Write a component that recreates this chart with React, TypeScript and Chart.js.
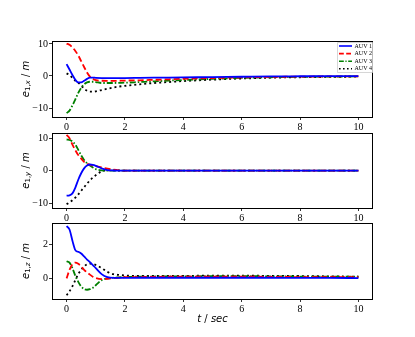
import React, { useEffect, useRef } from "react";
import { Chart, registerables } from "chart.js";
Chart.register(...registerables);

const T = [0, 0.1, 0.2, 0.3, 0.4, 0.5, 0.6, 0.7, 0.8, 0.9, 1.0, 1.2, 1.4, 1.6, 1.8, 2, 2.5, 3, 3.5, 4, 5, 6, 7, 8, 9, 10];

const SERIES_NAMES = ["AUV 1", "AUV 2", "AUV 3", "AUV 4"];

// panel 1: e_{1,x}
const X_AUV1 = [3.7, 2.0, 0.3, -1.2, -2.0, -2.0, -1.5, -0.9, -0.5, -0.5, -0.6, -0.65, -0.65, -0.65, -0.65, -0.65, -0.6, -0.55, -0.5, -0.45, -0.35, -0.25, -0.15, -0.1, -0.06, -0.03];
const X_AUV2 = [10.1, 9.7, 8.9, 7.8, 6.4, 4.6, 2.8, 1.1, -0.2, -0.9, -1.3, -1.5, -1.55, -1.55, -1.5, -1.45, -1.35, -1.2, -1.05, -0.9, -0.65, -0.45, -0.3, -0.2, -0.15, -0.1];
const X_AUV3 = [-11.6, -10.8, -9.2, -7.3, -5.3, -3.7, -2.6, -2.0, -1.8, -1.8, -1.9, -2.2, -2.2, -2.2, -2.15, -2.1, -1.9, -1.7, -1.45, -1.25, -0.9, -0.6, -0.4, -0.3, -0.2, -0.15];
const X_AUV4 = [0.8, 0.3, -0.6, -1.5, -2.1, -3.0, -4.0, -4.6, -4.9, -4.9, -4.8, -4.4, -4.0, -3.6, -3.3, -3.1, -2.6, -2.2, -1.9, -1.6, -1.15, -0.8, -0.55, -0.4, -0.3, -0.2];

// panel 2: e_{1,y}
const Y_AUV1 = [-7.7, -7.6, -7.0, -5.2, -2.8, -0.8, 0.7, 1.6, 1.9, 1.8, 1.5, 0.7, 0.2, 0.05, 0, 0, 0, 0, 0, 0, 0, 0, 0, 0, 0, 0];
const Y_AUV2 = [11.0, 10.0, 8.0, 6.3, 4.8, 3.7, 2.7, 2.1, 1.8, 1.6, 1.4, 1.0, 0.6, 0.3, 0.1, 0, 0, 0, 0, 0, 0, 0, 0, 0, 0, 0];
const Y_AUV3 = [9.6, 9.5, 9.0, 8.0, 6.4, 4.7, 3.3, 2.3, 1.6, 1.0, 0.5, 0.1, 0, 0, 0, 0, 0, 0, 0, 0, 0, 0, 0, 0, 0, 0];
const Y_AUV4 = [-10.3, -9.8, -9.1, -8.3, -7.3, -6.2, -5.1, -4.0, -3.0, -2.1, -1.4, -0.2, 0.1, 0.1, 0.05, 0, 0, 0, 0, 0, 0, 0, 0, 0, 0, 0];

// panel 3: e_{1,z}
const Z_AUV1 = [3.05, 2.85, 2.2, 1.65, 1.55, 1.45, 1.28, 1.1, 0.95, 0.78, 0.6, 0.25, 0.07, 0.03, 0.03, 0.03, 0.04, 0.04, 0.04, 0.04, 0.04, 0.04, 0.04, 0.03, 0.03, 0.02];
const Z_AUV2 = [0, 0.5, 0.82, 0.92, 0.85, 0.7, 0.5, 0.35, 0.22, 0.1, 0.02, -0.04, -0.02, 0.02, 0.05, 0.07, 0.08, 0.09, 0.1, 0.1, 0.1, 0.1, 0.09, 0.08, 0.08, 0.07];
const Z_AUV3 = [1.0, 0.92, 0.6, 0.15, -0.2, -0.47, -0.62, -0.66, -0.63, -0.55, -0.4, -0.1, 0.0, 0.04, 0.06, 0.08, 0.1, 0.11, 0.12, 0.12, 0.13, 0.13, 0.12, 0.11, 0.1, 0.1];
const Z_AUV4 = [-0.98, -0.75, -0.46, -0.1, 0.25, 0.5, 0.7, 0.82, 0.86, 0.84, 0.78, 0.6, 0.38, 0.25, 0.2, 0.17, 0.14, 0.14, 0.15, 0.15, 0.16, 0.16, 0.15, 0.14, 0.12, 0.1];

const X_TICKS = [0, 2, 4, 6, 8, 10];
const Y_TICKS_1 = [-10, 0, 10];
const Y_TICKS_2 = [-10, 0, 10];
const Y_TICKS_3 = [0, 2];

const STYLES = [
  { color: "#0000ff", dash: [] as number[] },
  { color: "#ff0000", dash: [6, 3] },
  { color: "#008000", dash: [6, 2, 1.5, 2] },
  { color: "#000000", dash: [2, 3] },
];

type Panel = {
  top: number;
  height: number;
  padTop: number;
  xAxisH: number;
  yMin: number;
  yMax: number;
  yTicks: number[];
  series: number[][];
  axisSub: string;
  legend: boolean;
  xTitle: boolean;
};

const PANELS: Panel[] = [
  { top: 0, height: 131, padTop: 41, xAxisH: 14, yMin: -12.8, yMax: 10.9, yTicks: Y_TICKS_1, series: [X_AUV1, X_AUV2, X_AUV3, X_AUV4], axisSub: "x", legend: true, xTitle: false },
  { top: 131, height: 90, padTop: 2, xAxisH: 13, yMin: -11.5, yMax: 11.6, yTicks: Y_TICKS_2, series: [Y_AUV1, Y_AUV2, Y_AUV3, Y_AUV4], axisSub: "y", legend: false, xTitle: false },
  { top: 221, height: 116, padTop: 2, xAxisH: 38, yMin: -1.2, yMax: 3.23, yTicks: Y_TICKS_3, series: [Z_AUV1, Z_AUV2, Z_AUV3, Z_AUV4], axisSub: "z", legend: false, xTitle: true },
];

const W = 415;
const LEFT = 52;
const RIGHT_PAD = 42;
const LABEL_FONT = "DejaVu Sans";
const TICK_FONT = "Liberation Serif";

function fmt(v: number) {
  const s = String(v);
  return v < 0 ? "\u2212" + s.slice(1) : s;
}

function drawPieces(ctx: CanvasRenderingContext2D, pieces: { t: string; font: string; dy: number }[], cx: number, cy: number) {
  let total = 0;
  for (const p of pieces) {
    ctx.font = p.font;
    total += ctx.measureText(p.t).width;
  }
  let x = cx - total / 2;
  ctx.textBaseline = "middle";
  ctx.textAlign = "left";
  for (const p of pieces) {
    ctx.font = p.font;
    ctx.fillText(p.t, x, cy + p.dy);
    x += ctx.measureText(p.t).width;
  }
}

function PanelChart({ p }: { p: Panel }) {
  const ref = useRef<HTMLCanvasElement | null>(null);
  useEffect(() => {
    if (!ref.current) return;
    const decor = {
      id: "decor",
      afterDraw(chart: any) {
        const ctx = chart.ctx as CanvasRenderingContext2D;
        const a = chart.chartArea;
        ctx.save();
        ctx.strokeStyle = "#000";
        ctx.lineWidth = 1;
        ctx.strokeRect(Math.round(a.left) + 0.5, Math.round(a.top) + 0.5, Math.round(a.right - a.left) - 1, Math.round(a.bottom - a.top));
        ctx.fillStyle = "#000";
        ctx.translate(26, (a.top + a.bottom) / 2);
        ctx.rotate(-Math.PI / 2);
        drawPieces(
          ctx,
          [
            { t: "e", font: `italic 10px '${LABEL_FONT}'`, dy: 0 },
            { t: "1,", font: `7px '${LABEL_FONT}'`, dy: 2.5 },
            { t: p.axisSub, font: `italic 7px '${LABEL_FONT}'`, dy: 2.5 },
            { t: " / ", font: `10px '${LABEL_FONT}'`, dy: 0 },
            { t: "m", font: `italic 10px '${LABEL_FONT}'`, dy: 0 },
          ],
          0,
          0
        );
        ctx.restore();
        if (p.xTitle) {
          ctx.save();
          ctx.fillStyle = "#000";
          drawPieces(
            ctx,
            [
              { t: "t", font: `italic 10px '${LABEL_FONT}'`, dy: 0 },
              { t: " / ", font: `10px '${LABEL_FONT}'`, dy: 0 },
              { t: "sec", font: `italic 10px '${LABEL_FONT}'`, dy: 0 },
            ],
            (a.left + a.right) / 2,
            a.bottom + 20
          );
          ctx.restore();
        }
        if (p.legend) {
          ctx.save();
          const bx = 337, by = 42, bw = 35, bh = 30;
          ctx.fillStyle = "rgba(255,255,255,0.85)";
          ctx.strokeStyle = "#cccccc";
          ctx.lineWidth = 0.8;
          ctx.beginPath();
          ctx.rect(bx + 0.5, by + 0.5, bw, bh);
          ctx.fill();
          ctx.stroke();
          SERIES_NAMES.forEach((name, i) => {
            const yy = by + 4 + i * 7.6;
            ctx.strokeStyle = STYLES[i].color;
            ctx.lineWidth = 1.6;
            ctx.setLineDash(STYLES[i].dash.length ? STYLES[i].dash.map((d) => d * 0.8) : []);
            ctx.beginPath();
            ctx.moveTo(339, yy);
            ctx.lineTo(352, yy);
            ctx.stroke();
            ctx.setLineDash([]);
            ctx.fillStyle = "#000";
            ctx.font = `6px '${TICK_FONT}'`;
            ctx.textBaseline = "middle";
            ctx.textAlign = "left";
            ctx.fillText(name, 354.5, yy);
          });
          ctx.restore();
        }
      },
    };
    const chart = new Chart(ref.current, {
      type: "line",
      data: {
        datasets: p.series.map((vals, i) => ({
          label: SERIES_NAMES[i],
          data: T.map((t, k) => ({ x: t, y: vals[k] })),
          borderColor: STYLES[i].color,
          borderDash: STYLES[i].dash,
          borderWidth: 1.8,
          pointRadius: 0,
          fill: false,
          cubicInterpolationMode: "monotone" as const,
        })),
      },
      options: {
        animation: false,
        responsive: false,
        events: [],
        layout: { padding: { left: 0, right: RIGHT_PAD, top: p.padTop, bottom: 0 } },
        plugins: { legend: { display: false }, tooltip: { enabled: false } },
        scales: {
          x: {
            type: "linear",
            min: -0.5,
            max: 10.5,
            afterBuildTicks: (s: any) => {
              s.ticks = X_TICKS.map((v) => ({ value: v }));
            },
            afterFit: (s: any) => {
              s.height = p.xAxisH;
              s.paddingLeft = 0;
              s.paddingRight = 0;
              s.paddingTop = 0;
              s.paddingBottom = 0;
            },
            border: { display: false },
            grid: { drawOnChartArea: false, drawTicks: true, tickLength: 3, color: "#000", lineWidth: 0.8 },
            ticks: {
              color: "#000",
              padding: 1,
              maxRotation: 0,
              autoSkip: false,
              font: { family: TICK_FONT, size: 10 },
              callback: (v: any) => fmt(Number(v)),
            },
          },
          y: {
            type: "linear",
            min: p.yMin,
            max: p.yMax,
            afterBuildTicks: (s: any) => {
              s.ticks = p.yTicks.map((v) => ({ value: v }));
            },
            afterFit: (s: any) => {
              s.width = LEFT;
              s.paddingLeft = 0;
              s.paddingRight = 0;
              s.paddingTop = 0;
              s.paddingBottom = 0;
            },
            border: { display: false },
            grid: { drawOnChartArea: false, drawTicks: true, tickLength: 3, color: "#000", lineWidth: 0.8 },
            ticks: {
              color: "#000",
              padding: 1,
              autoSkip: false,
              font: { family: TICK_FONT, size: 10 },
              callback: (v: any) => fmt(Number(v)),
            },
          },
        },
      },
      plugins: [decor],
    } as any);
    return () => chart.destroy();
  }, [p]);
  return (
    <canvas
      ref={ref}
      width={W}
      height={p.height}
      style={{ position: "absolute", left: 0, top: p.top, width: W, height: p.height, display: "block" }}
    />
  );
}

export default function App() {
  return (
    <div style={{ position: "fixed", left: 0, top: 0, width: W, height: 337, background: "#fff", overflow: "hidden" }}>
      {PANELS.map((p, i) => (
        <PanelChart key={i} p={p} />
      ))}
    </div>
  );
}
